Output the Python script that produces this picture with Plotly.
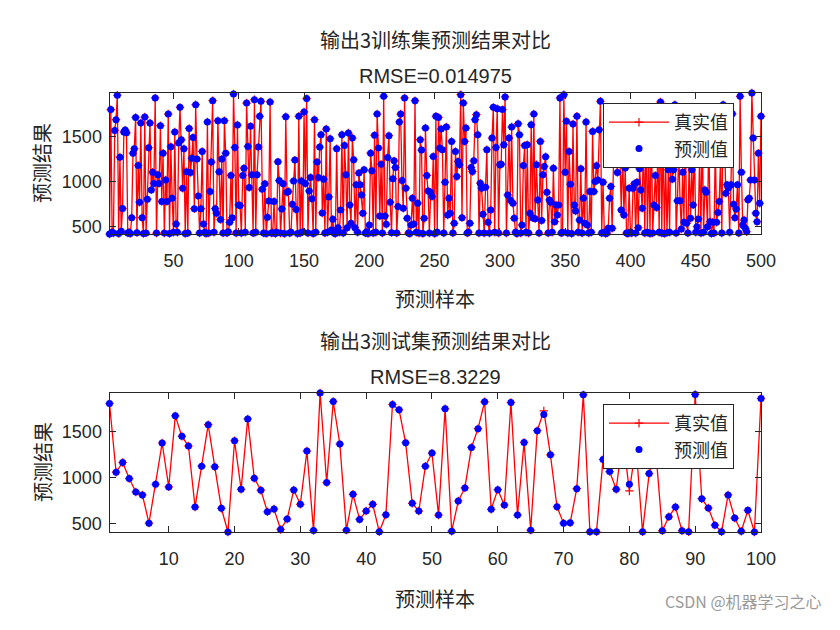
import plotly.graph_objects as go

# ---------------- data ----------------
train_pred = [
    420, 1797, 440, 430, 1567, 1686, 1956, 425, 1271, 450, 701, 1550, 1570, 1540, 430, 440, 425, 601, 1315, 1364,
    1711, 435, 1179, 772, 1650, 601, 425, 1715, 430, 805, 1375, 1650, 908, 1105, 980, 1926, 430, 1075, 980, 1619,
    780, 1315, 430, 1019, 780, 1748, 425, 1386, 816, 440, 1549, 531, 440, 1427, 1822, 1463, 927, 1364, 425, 1110,
    430, 1589, 1100, 1260, 1489, 700, 1852, 1250, 842, 430, 700, 1334, 531, 440, 425, 1660, 430, 890, 1216, 1896,
    440, 700, 650, 1675, 1108, 580, 1249, 430, 1675, 1315, 430, 445, 550, 1068, 600, 1970, 1378, 430, 1626, 742,
    735, 430, 1068, 1149, 440, 1870, 1389, 934, 1612, 1075, 430, 1907, 440, 1075, 1382, 1723, 1889, 916, 430, 975,
    425, 605, 786, 1882, 430, 435, 780, 425, 440, 1219, 1012, 430, 698, 975, 425, 1719, 883, 890, 430, 440,
    750, 1008, 1238, 690, 425, 1723, 430, 1008, 445, 1771, 979, 1919, 430, 897, 1045, 809, 425, 1686, 440, 1216,
    1045, 1382, 1519, 653, 1027, 430, 1582, 440, 831, 1475, 464, 583, 430, 425, 1364, 490, 440, 686, 1519, 430,
    1401, 1075, 490, 1538, 742, 538, 1482, 1242, 490, 964, 440, 1094, 964, 853, 650, 1130, 430, 445, 425, 520,
    1315, 1119, 430, 1512, 440, 1748, 1371, 620, 1193, 430, 1944, 620, 527, 1267, 1508, 772, 435, 1031, 1230, 1156,
    430, 724, 1660, 1748, 1012, 705, 1926, 927, 594, 430, 425, 520, 816, 530, 1896, 440, 761, 430, 1464, 1349,
    425, 594, 1593, 1068, 897, 430, 883, 834, 1279, 425, 1723, 440, 1711, 1371, 1582, 1353, 430, 994, 1604, 631,
    816, 650, 1445, 430, 538, 1334, 1057, 1223, 1186, 1963, 601, 1870, 1445, 1593, 430, 440, 538, 1156, 1112, 1230,
    1686, 1741, 1519, 430, 983, 927, 638, 430, 938, 1353, 550, 430, 686, 1482, 1822, 440, 1378, 1808, 430, 1186,
    1193, 1797, 1408, 1937, 430, 853, 1482, 797, 1604, 760, 594, 440, 425, 1641, 1519, 430, 520, 1179, 1401, 440,
    1408, 430, 650, 1630, 600, 1748, 590, 1186, 797, 430, 1445, 570, 1075, 1168, 1275, 883, 430, 797, 772, 440,
    1149, 557, 742, 631, 742, 1926, 430, 440, 1963, 1105, 1667, 430, 1334, 972, 425, 1637, 742, 675, 1723, 440,
    575, 1142, 430, 816, 538, 1660, 520, 430, 890, 440, 1556, 890, 1001, 1175, 1019, 1575, 1889, 430, 994, 440,
    425, 430, 483, 816, 946, 483, 1200, 1500, 1300, 1100, 1450, 1250, 686, 1350, 631, 1150, 430, 425, 927, 440,
    430, 927, 975, 430, 994, 490, 1142, 908, 705, 1500, 430, 1650, 440, 1300, 425, 1750, 430, 742, 1068, 712,
    1400, 440, 1882, 430, 1550, 425, 1200, 435, 1130, 440, 1600, 1027, 1130, 1852, 430, 787, 1350, 787, 476, 1105,
    550, 1700, 538, 430, 1250, 594, 1130, 742, 1450, 440, 501, 587, 1300, 430, 1650, 440, 908, 883, 501, 1550,
    557, 425, 550, 430, 1400, 550, 657, 779, 1250, 430, 1852, 1600, 870, 964, 930, 440, 964, 1750, 750, 601,
    698, 964, 430, 1944, 1105, 520, 575, 483, 445, 798, 816, 1019, 1981, 1482, 1019, 650, 557, 1315, 760, 1723,
]
# RMSE on the training set is ~0.015, so true and predicted values coincide visually
train_true = list(train_pred)

test_true = [
    1810, 1059, 1165, 989, 843, 810, 502, 927, 1378, 898,
    1675, 1451, 1345, 678, 1125, 1579, 1118, 664, 405, 1403,
    872, 1642, 993, 862, 626, 656, 433, 546, 865, 708,
    1290, 422, 1925, 945, 1832, 1367, 425, 817, 543, 634,
    708, 407, 593, 1799, 1741, 1381, 719, 634, 1125, 1268,
    590, 1752, 414, 744, 887, 1330, 1535, 1829, 653, 868,
    700, 1821, 590, 1385, 425, 1513, 1730, 1249, 681, 502,
    505, 879, 1905, 407, 407, 1198, 1066, 872, 1450, 854,
    1350, 407, 1044, 1300, 418, 571, 678, 418, 407, 1909,
    769, 667, 480, 407, 810, 557, 414, 642, 405, 1865,
]
test_pred = [
    1810, 1059, 1165, 989, 843, 810, 502, 927, 1378, 898,
    1675, 1451, 1345, 678, 1125, 1579, 1118, 664, 405, 1403,
    872, 1642, 993, 862, 626, 656, 433, 546, 865, 708,
    1290, 422, 1925, 945, 1832, 1367, 425, 817, 543, 634,
    708, 407, 593, 1799, 1741, 1381, 719, 634, 1125, 1268,
    590, 1752, 414, 744, 887, 1330, 1535, 1829, 653, 868,
    700, 1821, 590, 1385, 425, 1513, 1689, 1249, 681, 502,
    505, 879, 1905, 407, 407, 1198, 1066, 872, 1450, 927,
    1350, 407, 1044, 1300, 418, 571, 678, 418, 407, 1909,
    769, 667, 480, 407, 810, 557, 414, 642, 405, 1865,
]

train_x = list(range(1, len(train_pred) + 1))
test_x = list(range(1, len(test_pred) + 1))

title_train = "输出3训练集预测结果对比"
title_test = "输出3测试集预测结果对比"
rmse_train = "RMSE=0.014975"
rmse_test = "RMSE=8.3229"
x_label = "预测样本"
y_label = "预测结果"
legend_names = ["真实值", "预测值"]
train_xticks = [50, 100, 150, 200, 250, 300, 350, 400, 450, 500]
test_xticks = [10, 20, 30, 40, 50, 60, 70, 80, 90, 100]
yticks = [500, 1000, 1500]

# ---------------- figure ----------------
OFF_X, OFF_Y = 8, 8          # default page body margin
W, H = 816, 608              # small enough that the page never overflows
CJK = "Noto Sans CJK SC"
NUM = "Liberation Sans, Arial, sans-serif"
TXT = "#262626"


def px_x(p):
    return (p - OFF_X) / W


def px_y(p):
    return 1 - (p - OFF_Y) / H


fig = go.Figure()

for (xs, yt, yp, xa, ya, leg) in [
    (train_x, train_true, train_pred, "x", "y", "legend"),
    (test_x, test_true, test_pred, "x2", "y2", "legend2"),
]:
    fig.add_trace(go.Scatter(
        x=xs, y=yt, mode="lines+markers", name=legend_names[0],
        line=dict(color="#ff0000", width=1.3),
        marker=dict(symbol="cross-thin", size=6, color="#ff0000",
                    line=dict(color="#ff0000", width=1.2)),
        xaxis=xa, yaxis=ya, legend=leg, cliponaxis=False,
    ))
    fig.add_trace(go.Scatter(
        x=xs, y=yp, mode="markers", name=legend_names[1],
        marker=dict(symbol="circle", size=7, color="#0000ff"),
        xaxis=xa, yaxis=ya, legend=leg, cliponaxis=False,
    ))

xdom = [px_x(109.5), px_x(761)]
axis_common = dict(
    showline=True, linecolor=TXT, linewidth=1, mirror="ticks",
    ticks="inside", ticklen=6, tickwidth=1, tickcolor=TXT,
    showgrid=False, zeroline=False, automargin=False,
    tickfont=dict(family=NUM, size=18, color=TXT),
)

fig.update_layout(
    width=W, height=H, autosize=False,
    margin=dict(l=0, r=0, t=0, b=0, pad=0),
    paper_bgcolor="white", plot_bgcolor="white",
    showlegend=True,
    xaxis=dict(domain=xdom, range=[1, len(train_x)], tickvals=train_xticks,
               anchor="y", ticklabelstandoff=10, **axis_common),
    yaxis=dict(domain=[px_y(234), px_y(93)],
               range=[min(train_pred + train_true), max(train_pred + train_true)],
               tickvals=yticks, anchor="x", ticklabelstandoff=3, **axis_common),
    xaxis2=dict(domain=xdom, range=[1, len(test_x)], tickvals=test_xticks,
                anchor="y2", ticklabelstandoff=10, **axis_common),
    yaxis2=dict(domain=[px_y(532), px_y(393)],
                range=[min(test_pred + test_true), max(test_pred + test_true)],
                tickvals=yticks, anchor="x2", ticklabelstandoff=3, **axis_common),
    legend=dict(x=px_x(603), y=px_y(103), xanchor="left", yanchor="top",
                bgcolor="white", bordercolor=TXT, borderwidth=1,
                font=dict(family=CJK, size=18, color=TXT),
                itemwidth=60, tracegroupgap=0),
    legend2=dict(x=px_x(603), y=px_y(404), xanchor="left", yanchor="top",
                 bgcolor="white", bordercolor=TXT, borderwidth=1,
                 font=dict(family=CJK, size=18, color=TXT),
                 itemwidth=60, tracegroupgap=0),
)

cx = (109.5 + 761) / 2
annotations = [
    (title_train, cx, 40, 20, CJK, 0),
    (rmse_train, cx, 76, 20, NUM, 0),
    (x_label, cx, 298, 20, CJK, 0),
    (title_test, cx, 340, 20, CJK, 0),
    (rmse_test, cx, 377, 20, NUM, 0),
    (x_label, cx, 598, 20, CJK, 0),
    (y_label, 42, 163, 20, CJK, -90),
    (y_label, 42, 462, 20, CJK, -90),
]
for text, ax_, ay_, size, fam, ang in annotations:
    fig.add_annotation(
        text=text, x=px_x(ax_), y=px_y(ay_), xref="paper", yref="paper",
        xanchor="center", yanchor="middle", showarrow=False, textangle=ang,
        font=dict(family=fam, size=size, color=TXT),
    )

fig.add_annotation(
    text="CSDN @机器学习之心", x=px_x(824), y=px_y(615), xref="paper", yref="paper",
    xanchor="right", yanchor="bottom", showarrow=False,
    font=dict(family=CJK, size=16, color="#9a9a9a"),
)

fig.write_html("out.html")
